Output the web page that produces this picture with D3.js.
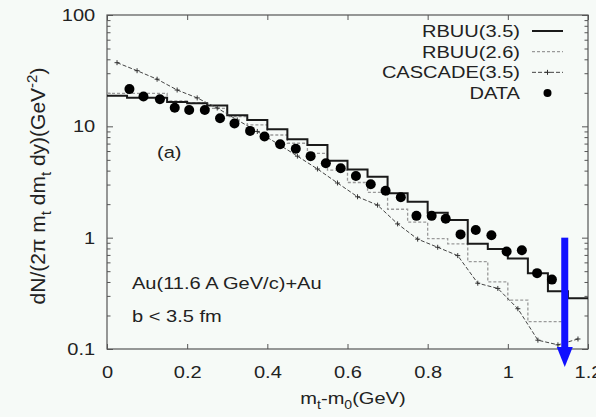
<!DOCTYPE html>
<html>
<head>
<meta charset="utf-8">
<script src="https://cdn.jsdelivr.net/npm/d3@7"></script>
<style>
  body { margin: 0; background: #f6faf7; }
  svg { display: block; font-family: "Liberation Sans", Arial, sans-serif; }
</style>
</head>
<body>
<div id="chart"></div>
<script>
// Data
const binStart = [0, 0.05, 0.1, 0.15, 0.2, 0.25, 0.3, 0.35, 0.4, 0.45, 0.5, 0.55,
                  0.6, 0.65, 0.7, 0.75, 0.8, 0.85, 0.9, 0.95, 1.0, 1.05, 1.1, 1.15];
const binMid = [0.025, 0.075, 0.125, 0.175, 0.225, 0.275, 0.325, 0.375, 0.425, 0.475, 0.525, 0.575,
                0.625, 0.675, 0.725, 0.775, 0.825, 0.875, 0.925, 0.975, 1.025, 1.075, 1.125, 1.175];
const rbuu35 = [18.8, 18.1, 18.1, 16.5, 16.1, 15.4, 12.6, 11.4, 9.4, 7.65, 6.8, 4.9,
                4.1, 3.53, 2.5, 2.1, 1.67, 1.44, 0.88, 0.79, 0.65, 0.48, 0.33, 0.285];
const rbuu26 = [19.8, 19.8, 19.8, 16.9, 16.2, 14.5, 12.2, 10.3, 8.36, 7.05, 5.72, 4.05,
                3.13, 2.55, 1.8, 1.38, 0.98, 0.88, 0.61, 0.40, 0.275, 0.176, 0.176];
const cascade = [37.3, 31.6, 26.5, 21.2, 18.0, 14.6, 11.4, 9.0, 7.0, 5.4, 4.14, 3.10,
                 2.33, 1.96, 1.33, 0.97, 0.82, 0.69, 0.39, 0.35, 0.23, 0.12, 0.109, 0.123];
const dataX = [0.056, 0.091, 0.132, 0.169, 0.205, 0.244, 0.282, 0.318, 0.357, 0.393, 0.432, 0.471,
               0.508, 0.546, 0.583, 0.621, 0.658, 0.695, 0.733, 0.772, 0.810, 0.845, 0.882, 0.920,
               0.959, 0.997, 1.035, 1.073, 1.110];
const dataY = [21.6, 18.5, 17.5, 14.7, 14.0, 14.0, 11.8, 10.6, 9.1, 8.1, 6.9, 6.3,
               5.4, 4.66, 4.2, 3.58, 3.02, 2.64, 2.31, 1.57, 1.57, 1.48, 1.07, 1.17,
               1.05, 0.75, 0.77, 0.48, 0.42];
const xTicks = [0, 0.2, 0.4, 0.6, 0.8, 1.0, 1.2];
const yTicks = [0.1, 1, 10, 100];
const yMinor = [0.2, 0.3, 0.4, 0.5, 0.6, 0.7, 0.8, 0.9, 2, 3, 4, 5, 6, 7, 8, 9,
                20, 30, 40, 50, 60, 70, 80, 90];
const legendLabels = ["RBUU(3.5)", "RBUU(2.6)", "CASCADE(3.5)", "DATA"];
const arrow = {x: 1.142, top: 1.0, base: 0.1, tip: 0.069};

// Frame constants
const FRAME_WIDTH = 596;
const FRAME_HEIGHT = 417;
const MARGINS = {left: 107, right: 8, top: 15, bottom: 68};
const SX = 1.18; // text in the picture is a bit wide

const svg = d3.select("#chart")
  .append("svg")
    .attr("width", FRAME_WIDTH)
    .attr("height", FRAME_HEIGHT);

svg.append("rect")
  .attr("width", FRAME_WIDTH).attr("height", FRAME_HEIGHT)
  .attr("fill", "#f6faf7");

const X = d3.scaleLinear().domain([0, 1.2])
  .range([MARGINS.left, FRAME_WIDTH - MARGINS.right]);
const Y = d3.scaleLog().domain([0.1, 100])
  .range([FRAME_HEIGHT - MARGINS.bottom, MARGINS.top]);

const fmt = d3.format("~g");

// axes (ticks point inward)
function stretch(sel) {
  sel.selectAll("text").attr("transform", "scale(" + SX + ",1)");
}
svg.append("g")
  .attr("transform", "translate(0," + Y(0.1) + ")")
  .call(d3.axisBottom(X).tickValues(xTicks).tickFormat(fmt).tickSize(-5).tickSizeOuter(0).tickPadding(17))
  .call(stretch);
svg.append("g")
  .attr("transform", "translate(0," + Y(100) + ")")
  .call(d3.axisTop(X).tickValues(xTicks).tickFormat("").tickSize(-5).tickSizeOuter(0));
svg.append("g")
  .attr("transform", "translate(" + X(0) + ",0)")
  .call(d3.axisLeft(Y).tickValues(yTicks).tickFormat(fmt).tickSize(-6).tickSizeOuter(0).tickPadding(10))
  .call(stretch);
svg.append("g")
  .attr("transform", "translate(" + X(0) + ",0)")
  .call(d3.axisLeft(Y).tickValues(yMinor).tickFormat("").tickSize(-3.5).tickSizeOuter(0));
svg.append("g")
  .attr("transform", "translate(" + X(1.2) + ",0)")
  .call(d3.axisRight(Y).tickValues(yTicks).tickFormat("").tickSize(-6).tickSizeOuter(0));
svg.append("g")
  .attr("transform", "translate(" + X(1.2) + ",0)")
  .call(d3.axisRight(Y).tickValues(yMinor).tickFormat("").tickSize(-3.5).tickSizeOuter(0));

svg.selectAll(".domain").remove();
svg.selectAll(".tick line").attr("stroke", "#555");
svg.selectAll(".tick text").attr("font-size", "17px").attr("fill", "#222")
  .attr("font-family", "Liberation Sans, Arial, sans-serif");

// frame
svg.append("rect")
  .attr("x", X(0)).attr("y", Y(100))
  .attr("width", X(1.2) - X(0)).attr("height", Y(0.1) - Y(100))
  .attr("fill", "none").attr("stroke", "#555").attr("stroke-width", 1.2);

// step histograms
function stepPoints(vals) {
  const pts = vals.map((v, i) => [binStart[i], v]);
  pts.push([binStart[vals.length - 1] + 0.05, vals[vals.length - 1]]);
  return pts;
}
const stepLine = d3.line().x(d => X(d[0])).y(d => Y(d[1])).curve(d3.curveStepAfter);

svg.append("path")
  .attr("d", stepLine(stepPoints(rbuu26)))
  .attr("fill", "none").attr("stroke", "#9a9a9a")
  .attr("stroke-width", 1.3).attr("stroke-dasharray", "3,2");

svg.append("path")
  .attr("d", stepLine(stepPoints(rbuu35)))
  .attr("fill", "none").attr("stroke", "#1a1a1a").attr("stroke-width", 2);

// cascade line with + markers
const casLine = d3.line().x((d, i) => X(binMid[i])).y(d => Y(d));
svg.append("path")
  .attr("d", casLine(cascade))
  .attr("fill", "none").attr("stroke", "#444")
  .attr("stroke-width", 1).attr("stroke-dasharray", "4,2");
svg.selectAll(".cas")
  .data(cascade)
  .enter()
  .append("path")
    .attr("class", "cas")
    .attr("d", (d, i) => {
      const cx = X(binMid[i]), cy = Y(d);
      return "M" + (cx - 2.5) + "," + cy + "H" + (cx + 2.5) + "M" + cx + "," + (cy - 2.5) + "V" + (cy + 2.5);
    })
    .attr("stroke", "#333").attr("stroke-width", 1);

// data points
svg.selectAll(".point")
  .data(dataY)
  .enter()
  .append("circle")
    .attr("class", "point")
    .attr("cx", (d, i) => X(dataX[i]))
    .attr("cy", d => Y(d))
    .attr("r", 5)
    .attr("fill", "#000");

// blue arrow
const ax = X(arrow.x);
svg.append("rect")
  .attr("x", ax - 3.5).attr("y", Y(arrow.top))
  .attr("width", 7).attr("height", Y(arrow.base) - Y(arrow.top) + 1)
  .attr("fill", "#1010ff");
svg.append("path")
  .attr("d", "M" + (ax - 8) + "," + (Y(arrow.base) - 2) + "L" + (ax + 8) + "," + (Y(arrow.base) - 2) +
             "L" + ax + "," + Y(arrow.tip) + "Z")
  .attr("fill", "#1010ff");

// texts
function label(x, y, anchor, parts, size) {
  const t = svg.append("text")
    .attr("transform", "translate(" + x + "," + y + ") scale(" + SX + ",1)")
    .attr("text-anchor", anchor)
    .attr("font-size", size + "px")
    .attr("fill", "#222");
  let shift = 0;
  parts.forEach(p => {
    const s = p.sub ? 5 : (p.sup ? -7 : 0);
    t.append("tspan")
      .attr("dy", s - shift)
      .attr("font-size", (p.sub || p.sup) ? (size * 0.7) + "px" : null)
      .text(p.t);
    shift = s;
  });
  return t;
}

// legend
const legendY = d3.scalePoint().domain(legendLabels).range([31, 93]);
legendLabels.forEach(l => label(520, legendY(l) + 6, "end", [{t: l}], 17));
const lx0 = 532, lx1 = 563;
svg.append("line").attr("x1", lx0).attr("x2", lx1)
  .attr("y1", legendY("RBUU(3.5)")).attr("y2", legendY("RBUU(3.5)"))
  .attr("stroke", "#1a1a1a").attr("stroke-width", 2);
svg.append("line").attr("x1", lx0).attr("x2", lx1)
  .attr("y1", legendY("RBUU(2.6)")).attr("y2", legendY("RBUU(2.6)"))
  .attr("stroke", "#9a9a9a").attr("stroke-width", 1.3).attr("stroke-dasharray", "3,2");
const cy3 = legendY("CASCADE(3.5)");
svg.append("line").attr("x1", lx0).attr("x2", lx1)
  .attr("y1", cy3).attr("y2", cy3)
  .attr("stroke", "#444").attr("stroke-width", 1).attr("stroke-dasharray", "4,2");
svg.append("path")
  .attr("d", "M" + (547.5 - 2.5) + "," + cy3 + "H" + (547.5 + 2.5) + "M547.5," + (cy3 - 2.5) + "V" + (cy3 + 2.5))
  .attr("stroke", "#333");
svg.append("circle").attr("cx", 547.5).attr("cy", legendY("DATA")).attr("r", 4).attr("fill", "#000");

// annotations
label(157, 158, "start", [{t: "(a)"}], 17);
label(132, 289, "start", [{t: "Au(11.6 A GeV/c)+Au"}], 17);
label(132, 321.5, "start", [{t: "b < 3.5 fm"}], 17);

// axis titles
label(353, 404, "middle", [{t: "m"}, {t: "t", sub: true}, {t: "-m"}, {t: "0", sub: true}, {t: "(GeV)"}], 17);

const yl = svg.append("text")
  .attr("transform", "translate(45,186) rotate(-90)")
  .attr("text-anchor", "middle")
  .attr("font-size", "21px")
  .attr("fill", "#222");
[{t: "dN/(2π m"}, {t: "t", sub: true}, {t: " dm"}, {t: "t", sub: true}, {t: " dy)(GeV"},
 {t: "-2", sup: true}, {t: ")"}].reduce((shift, p) => {
  const s = p.sub ? 6 : (p.sup ? -8 : 0);
  yl.append("tspan").attr("dy", s - shift)
    .attr("font-size", (p.sub || p.sup) ? "15px" : null).text(p.t);
  return s;
}, 0);
</script>
</body>
</html>
